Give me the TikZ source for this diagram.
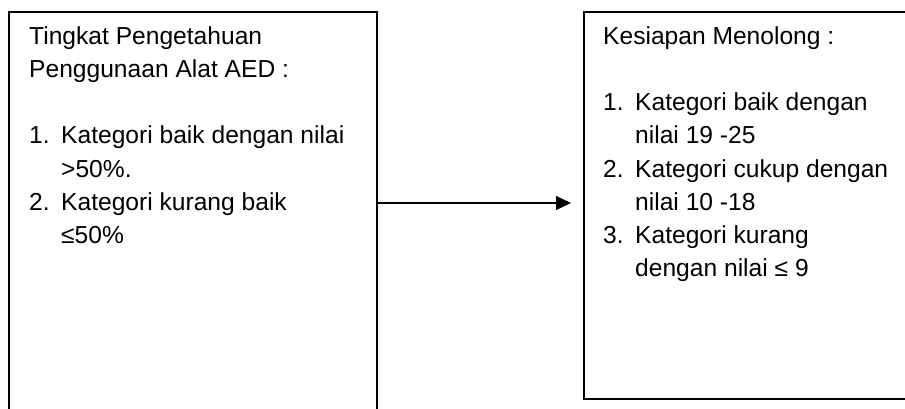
\documentclass[tikz,border=0pt]{standalone}
\usepackage{fontspec}
\setmainfont{Liberation Sans}
\usetikzlibrary{arrows.meta}
\tikzset{
  frameline/.style={draw=black, line width=1.6pt, line join=miter},
  txt/.style={anchor=base west, inner sep=0pt, font=\fontsize{24.6}{33}\selectfont},
  connector/.style={draw=black, line width=1.2pt, -{Triangle[length=15pt,width=14pt]}}
}
\newcommand{\numitem}[1]{\makebox[32pt][l]{#1}}
\begin{document}
\begin{tikzpicture}[x=1pt,y=-1pt]
\clip (0,0) rectangle (905,409);
% frames (open at the page edges)
\draw[frameline] (9,420) -- (9,12) -- (377,12) -- (377,420);
\draw[frameline] (915,12) -- (584,12) -- (584,399) -- (915,399);
% left box text
\node[txt] (l1) at (29,45) {Tingkat Pengetahuan};
\node[txt] (l2) at (29,78) {Penggunaan Alat AED :};
\node[txt] (l3) at (29,144) {\numitem{1.}Kategori baik dengan nilai};
\node[txt] (l4) at (61,177) {>50\%.};
\node[txt] (l5) at (29,210) {\numitem{2.}Kategori kurang baik};
\node[txt] (l6) at (61,243) {≤50\%};
% right box text
\node[txt] (r1) at (603,45) {Kesiapan Menolong :};
\node[txt] (r2) at (603,111) {\numitem{1.}Kategori baik dengan};
\node[txt] (r3) at (635,144) {nilai 19 -25};
\node[txt] (r4) at (603,177) {\numitem{2.}Kategori cukup dengan};
\node[txt] (r5) at (635,210) {nilai 10 -18};
\node[txt] (r6) at (603,243) {\numitem{3.}Kategori kurang};
\node[txt] (r7) at (635,276) {dengan nilai ≤ 9};
% connector
\coordinate (aStart) at (377,203);
\coordinate (aEnd) at (571,203);
\draw[connector] (aStart) -- (aEnd);
\end{tikzpicture}
\end{document}
